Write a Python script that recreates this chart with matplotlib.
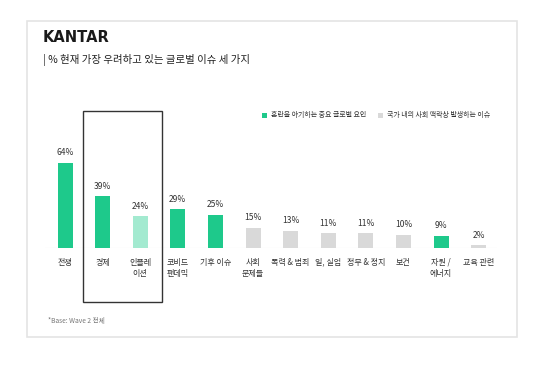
import matplotlib
matplotlib.use("Agg")
import matplotlib.pyplot as plt
from matplotlib.patches import Rectangle

plt.rcParams['font.family'] = ['Noto Sans CJK KR', 'DejaVu Sans']

# data
categories = ["전쟁", "경제", "인플레\n이션", "코비드\n팬데믹", "기후 이슈", "사회\n문제들",
              "폭력 & 범죄", "일, 실업", "정부 & 정치", "보건", "자원 /\n에너지", "교육 관련"]
values = [64, 39, 24, 29, 25, 15, 13, 11, 11, 10, 9, 2]
groups = ["g", "g", "l", "g", "g", "n", "n", "n", "n", "n", "g", "n"]

GREEN = "#1ec98b"
LIGHT = "#a3ead0"
GRAY = "#d9d9d9"
colors = {"g": GREEN, "l": LIGHT, "n": GRAY}

W, H = 544, 370
fig = plt.figure(figsize=(W / 100, H / 100), dpi=100)
fig.patch.set_facecolor("white")


def fx(px):
    return px / W


def fy(py):
    return 1 - py / H


# card (no fill so it never hides the axes)
fig.patches.append(Rectangle((fx(27), fy(337)), fx(490), 316 / H, transform=fig.transFigure,
                             facecolor="none", edgecolor="#e4e4e4", linewidth=1.2, zorder=-10))

# header
fig.text(fx(43), fy(38), "KANTAR", fontsize=10.5, fontweight="bold", color="#1a1a1a",
         va="center", ha="left", family="DejaVu Sans")
fig.text(fx(43), fy(60), "| % 현재 가장 우려하고 있는 글로벌 이슈 세 가지", fontsize=7.5,
         color="#222222", va="center", ha="left")

# legend
fig.patches.append(Rectangle((fx(262), fy(118)), fx(5), 5 / H, transform=fig.transFigure,
                             facecolor=GREEN, edgecolor="none"))
fig.text(fx(271), fy(115.5), "혼란을 야기하는 중요 글로벌 요인", fontsize=5, color="#333333",
         va="center", ha="left")
fig.patches.append(Rectangle((fx(378), fy(118)), fx(5), 5 / H, transform=fig.transFigure,
                             facecolor=GRAY, edgecolor="none"))
fig.text(fx(387), fy(115.5), "국가 내의 사회 맥락상 발생하는 이슈", fontsize=5, color="#333333",
         va="center", ha="left")

# bars
left_px, right_px, base_px, top_px = 45, 497, 248, 140
ax = fig.add_axes([fx(left_px), fy(base_px), fx(right_px - left_px), (base_px - top_px) / H])
step = 37.6
ax.set_xlim(-(65 - left_px) / step, (right_px - 65) / step)
ax.set_ylim(0, (base_px - top_px) / 1.33)
x = list(range(len(values)))
ax.bar(x, values, width=15 / step, color=[colors[g] for g in groups], zorder=2)
ax.axhline(0, color="#e6e6e6", linewidth=0.8, zorder=1)
for xi, v in zip(x, values):
    ax.annotate(f"{v}%", (xi, v), xytext=(0, 4), textcoords="offset points",
                ha="center", va="bottom", fontsize=6.1, color="#333333")
for xi, c in zip(x, categories):
    ax.annotate(c, (xi, 0), xytext=(0, -7), textcoords="offset points",
                ha="center", va="top", fontsize=5.8, color="#333333", linespacing=1.35)
ax.axis("off")

# highlight box around 경제 / 인플레이션
fig.patches.append(Rectangle((fx(83), fy(302)), fx(79), 191 / H, transform=fig.transFigure,
                             facecolor="none", edgecolor="#333333", linewidth=1.0, zorder=5))

# footnote
fig.text(fx(48), fy(321), "*Base: Wave 2 전체", fontsize=4.8, color="#777777", va="center", ha="left")

fig.savefig("out.png", dpi=100, facecolor="white")
